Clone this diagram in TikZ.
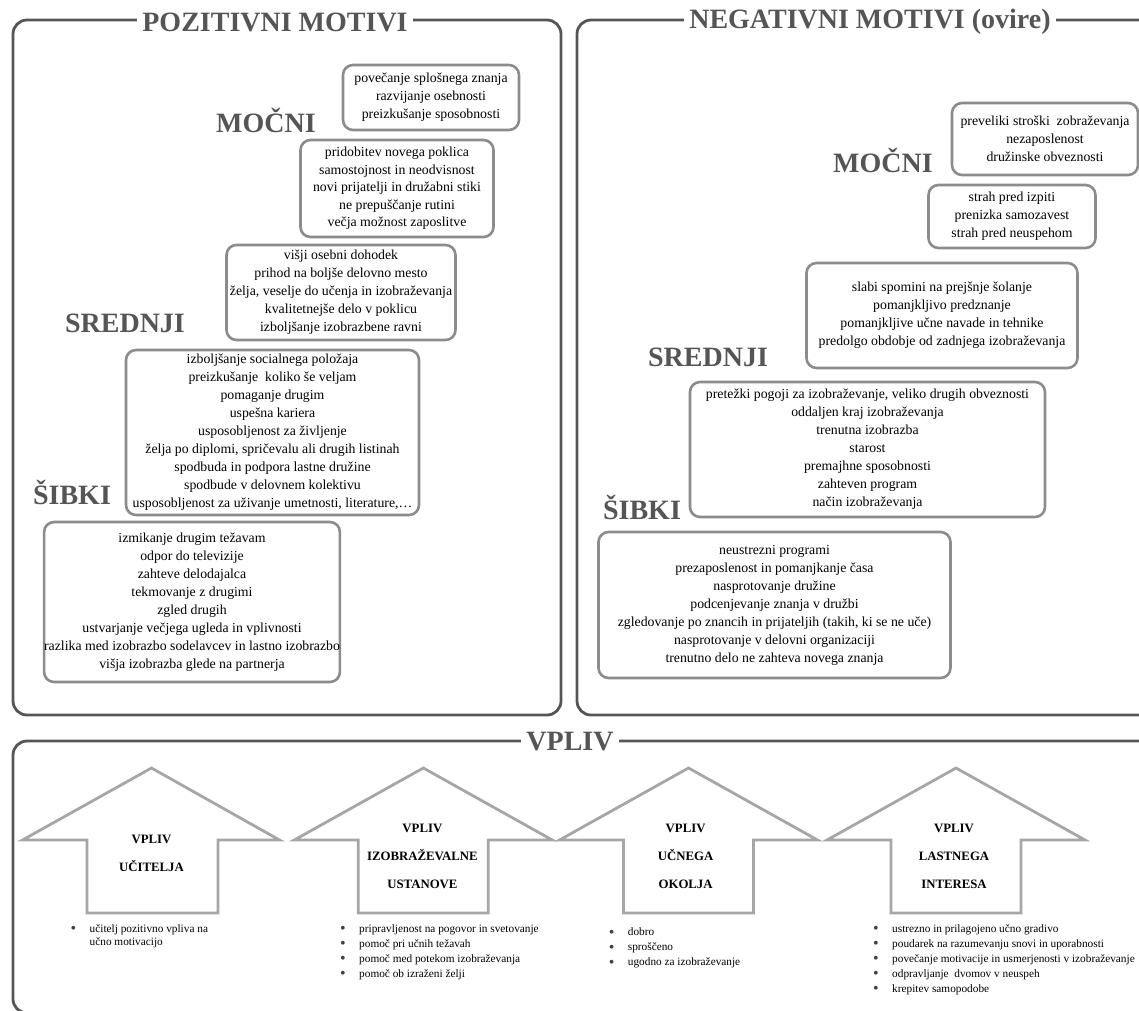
\documentclass[tikz,border=0pt]{standalone}
\usepackage{fontspec}
\setmainfont{Liberation Serif}
\usepackage{tikz}
\usetikzlibrary{positioning}

\definecolor{framegray}{HTML}{555555}
\definecolor{boxgray}{HTML}{8C8C8C}
\definecolor{arrowgray}{HTML}{A6A6A6}
\definecolor{dotgray}{HTML}{404040}
\newcommand{\dotitem}{\makebox[19pt][l]{\raisebox{-1.6pt}{\textcolor{dotgray}{\fontsize{16}{16}\selectfont\textbullet}}}}

\begin{document}
\begin{tikzpicture}[x=1pt, y=-1pt,
    panel/.style={draw=framegray, line width=2.8pt, rounded corners=14pt},
    paneltitle/.style={fill=white, text=framegray, font=\fontsize{28}{30}\selectfont\bfseries, inner xsep=5pt, inner ysep=1pt},
    level/.style={text=framegray, font=\fontsize{28}{30}\selectfont\bfseries},
    motive/.style={draw=boxgray, line width=2.6pt, rounded corners=10pt, align=center, inner sep=0pt, font=\fontsize{13.8}{18}\selectfont},
    blockarrow/.style={draw=arrowgray, line width=2.8pt},
    arrowlabel/.style={align=center, font=\fontsize{12.8}{28}\selectfont\bfseries},
    effects/.style={align=left, anchor=north west, inner sep=0pt, font=\fontsize{11.3}{15}\selectfont}
]
\useasboundingbox[fill=white] (0,0) rectangle (1139,1010);
\clip (0,0) rectangle (1139,1010);

% Panels
\draw[panel] (13,20) rectangle (561,715);
\draw[panel] (577,20) rectangle (1175,715);
\draw[panel] (13,741) rectangle (1175,1013);
\node[paneltitle] (postitle) at (275,22) {POZITIVNI MOTIVI};
\node[paneltitle] (negtitle) at (870,22) {NEGATIVNI MOTIVI (ovire)};
\node[paneltitle] (vptitle) at (570,742) {VPLIV};

% Positive motives
\node[motive, minimum width=176pt, minimum height=65pt] (pos1) at (431,97.5)
  {povečanje splošnega znanja\\razvijanje osebnosti\\preizkušanje sposobnosti};
\node[motive, minimum width=193pt, minimum height=97pt, font=\fontsize{13.8}{17.5}\selectfont] (pos2) at (397,188.5)
  {pridobitev novega poklica\\samostojnost in neodvisnost\\novi prijatelji in družabni stiki\\ne prepuščanje rutini\\večja možnost zaposlitve};
\node[motive, minimum width=229pt, minimum height=95pt] (pos3) at (341,292.5)
  {višji osebni dohodek\\prihod na boljše delovno mesto\\želja, veselje do učenja in izobraževanja\\kvalitetnejše delo v poklicu\\izboljšanje izobrazbene ravni};
\node[motive, minimum width=293pt, minimum height=165pt] (pos4) at (272.5,432.5)
  {izboljšanje socialnega položaja\\preizkušanje\ \ koliko še veljam\\pomaganje drugim\\uspešna kariera\\usposobljenost za življenje\\želja po diplomi, spričevalu ali drugih listinah\\spodbuda in podpora lastne družine\\spodbude v delovnem kolektivu\\usposobljenost za uživanje umetnosti, literature,\dots};
\node[motive, minimum width=293pt, minimum height=160pt] (pos5) at (192,602)
  {izmikanje drugim težavam\\odpor do televizije\\zahteve delodajalca\\tekmovanje z drugimi\\zgled drugih\\ustvarjanje večjega ugleda in vplivnosti\\razlika med izobrazbo sodelavcev in lastno izobrazbo\\višja izobrazba glede na partnerja};
\node[level] (posstrong) at (266,120) {MOČNI};
\node[level] (posmid) at (125,323) {SREDNJI};
\node[level] (posweak) at (72,492) {ŠIBKI};

% Negative motives
\node[motive, minimum width=186pt, minimum height=72pt] (neg1) at (1045,139)
  {preveliki stroški\ \ zobraževanja\\nezaposlenost\\družinske obveznosti};
\node[motive, minimum width=167pt, minimum height=63pt] (neg2) at (1012,216.5)
  {strah pred izpiti\\prenizka samozavest\\strah pred neuspehom};
\node[motive, minimum width=271pt, minimum height=105pt] (neg3) at (942,315.5)
  {slabi spomini na prejšnje šolanje\\pomanjkljivo predznanje\\pomanjkljive učne navade in tehnike\\predolgo obdobje od zadnjega izobraževanja};
\node[motive, minimum width=355pt, minimum height=135pt] (neg4) at (867.5,449.5)
  {pretežki pogoji za izobraževanje, veliko drugih obveznosti\\oddaljen kraj izobraževanja\\trenutna izobrazba\\starost\\premajhne sposobnosti\\zahteven program\\način izobraževanja};
\node[motive, minimum width=352pt, minimum height=146pt] (neg5) at (774.5,605)
  {neustrezni programi\\prezaposlenost in pomanjkanje časa\\nasprotovanje družine\\podcenjevanje znanja v družbi\\zgledovanje po znancih in prijateljih (takih, ki se ne uče)\\nasprotovanje v delovni organizaciji\\trenutno delo ne zahteva novega znanja};
\node[level] (negstrong) at (883,160) {MOČNI};
\node[level] (negmid) at (708,357) {SREDNJI};
\node[level] (negweak) at (642,507) {ŠIBKI};

% Influences
\draw[blockarrow] (151.5,768) -- (279.5,840) -- (218,840) -- (218,913) -- (87,913) -- (87,840) -- (22.5,840) -- cycle;
\draw[blockarrow] (423.3,768) -- (552.3,840) -- (488.3,840) -- (488.3,913) -- (358.3,913) -- (358.3,840) -- (294.3,840) -- cycle;
\draw[blockarrow] (688.5,768) -- (817.5,840) -- (753.5,840) -- (753.5,913) -- (623.5,913) -- (623.5,840) -- (559.5,840) -- cycle;
\draw[blockarrow] (956,768) -- (1085,840) -- (1021,840) -- (1021,913) -- (891,913) -- (891,840) -- (827,840) -- cycle;

\node[arrowlabel] (teacher) at (151.5,853) {VPLIV\\UČITELJA};
\node[arrowlabel] (school) at (422.4,856.5) {VPLIV\\IZOBRAŽEVALNE\\USTANOVE};
\node[arrowlabel] (environment) at (685.6,856) {VPLIV\\UČNEGA\\OKOLJA};
\node[arrowlabel] (interest) at (954,856) {VPLIV\\LASTNEGA\\INTERESA};

\node[effects, font=\fontsize{11.3}{13.5}\selectfont] (teacherlist) at (70.5,924)
  {\dotitem učitelj pozitivno vpliva na\\\hspace*{19pt}učno motivacijo};
\node[effects] (schoollist) at (340,924)
  {\dotitem pripravljenost na pogovor in svetovanje\\\dotitem pomoč pri učnih težavah\\\dotitem pomoč med potekom izobraževanja\\\dotitem pomoč ob izraženi želji};
\node[effects] (environmentlist) at (608.7,927.5)
  {\dotitem dobro\\\dotitem sproščeno\\\dotitem ugodno za izobraževanje};
\node[effects] (interestlist) at (873,924)
  {\dotitem ustrezno in prilagojeno učno gradivo\\\dotitem poudarek na razumevanju snovi in uporabnosti\\\dotitem povečanje motivacije in usmerjenosti v izobraževanje\\\dotitem odpravljanje\ \ dvomov v neuspeh\\\dotitem krepitev samopodobe};

\end{tikzpicture}
\end{document}
